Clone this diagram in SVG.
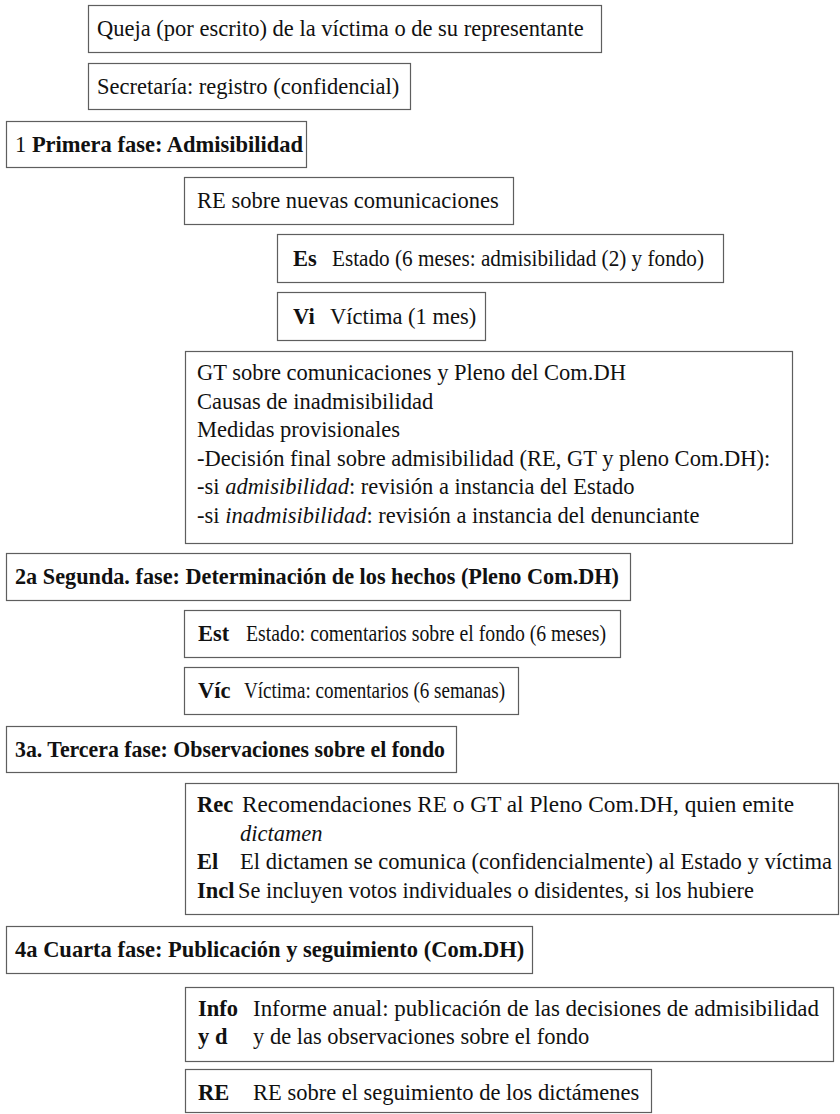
<svg xmlns="http://www.w3.org/2000/svg" width="840" height="1114" viewBox="0 0 840 1114">
<style>
.bx{fill:#ffffff;stroke:#5e5e5e;stroke-width:1.2}
.t{font-family:"Liberation Serif","Times New Roman",serif;font-size:22.5px;fill:#111111}
.b{font-weight:bold}
.i{font-style:italic}
</style>
<rect width="840" height="1114" fill="#ffffff"/>
<g id="queja"><rect class="bx" x="88.5" y="5.5" width="513" height="47"/><text class="t" x="97" y="36">Queja (por escrito) de la víctima o de su representante</text></g>
<g id="secretaria"><rect class="bx" x="88.5" y="63.5" width="322" height="46"/><text class="t" x="97" y="94">Secretaría: registro (confidencial)</text></g>
<g id="fase1"><rect class="bx" x="6.5" y="121.5" width="300" height="46"/><text class="t" x="15" y="152">1 <tspan class="b">Primera fase: Admisibilidad</tspan></text></g>
<g id="re-nuevas"><rect class="bx" x="184.5" y="177.5" width="329" height="47"/><text class="t" x="197" y="208">RE sobre nuevas comunicaciones</text></g>
<g id="es"><rect class="bx" x="277.5" y="234.5" width="446" height="48"/><text class="t b" x="293" y="266">Es</text><text class="t" x="332" y="266" textLength="372" lengthAdjust="spacingAndGlyphs">Estado (6 meses: admisibilidad (2) y fondo)</text></g>
<g id="vi"><rect class="bx" x="277.5" y="292.5" width="208" height="48"/><text class="t b" x="293" y="324">Vi</text><text class="t" x="330" y="324">Víctima (1 mes)</text></g>
<g id="gt"><rect class="bx" x="185.5" y="351.5" width="607" height="192"/>
<text class="t" x="197" y="380">GT sobre comunicaciones y Pleno del Com.DH</text>
<text class="t" x="197" y="408.6">Causas de inadmisibilidad</text>
<text class="t" x="197" y="437.2">Medidas provisionales</text>
<text class="t" x="197" y="465.8">-Decisión final sobre admisibilidad (RE, GT y pleno Com.DH):</text>
<text class="t" x="197" y="494.4">-si <tspan class="i">admisibilidad</tspan>: revisión a instancia del Estado</text>
<text class="t" x="197" y="523">-si <tspan class="i">inadmisibilidad</tspan>: revisión a instancia del denunciante</text></g>
<g id="fase2"><rect class="bx" x="6.5" y="553.5" width="624" height="47"/><text class="t b" x="15" y="584" textLength="604" lengthAdjust="spacingAndGlyphs">2a Segunda. fase: Determinación de los hechos (Pleno Com.DH)</text></g>
<g id="est"><rect class="bx" x="184.5" y="610.5" width="436" height="47"/><text class="t b" x="198" y="641">Est</text><text class="t" x="246" y="641" textLength="360" lengthAdjust="spacingAndGlyphs">Estado: comentarios sobre el fondo (6 meses)</text></g>
<g id="vic"><rect class="bx" x="184.5" y="667.5" width="334" height="47"/><text class="t b" x="198" y="698">Víc</text><text class="t" x="244" y="698" textLength="261" lengthAdjust="spacingAndGlyphs">Víctima: comentarios (6 semanas)</text></g>
<g id="fase3"><rect class="bx" x="6.5" y="726.5" width="450" height="46"/><text class="t b" x="15" y="757" textLength="430" lengthAdjust="spacingAndGlyphs">3a. Tercera fase: Observaciones sobre el fondo</text></g>
<g id="rec"><rect class="bx" x="185.5" y="783.5" width="653" height="131"/>
<text class="t b" x="197" y="812">Rec</text><text class="t" x="242" y="812" textLength="552" lengthAdjust="spacingAndGlyphs">Recomendaciones RE o GT al Pleno Com.DH, quien emite</text>
<text class="t i" x="240" y="840.5">dictamen</text>
<text class="t b" x="197" y="869">El</text><text class="t" x="240" y="869" textLength="592" lengthAdjust="spacingAndGlyphs">El dictamen se comunica (confidencialmente) al Estado y víctima</text>
<text class="t b" x="197" y="897.5">Incl</text><text class="t" x="238" y="897.5" textLength="516" lengthAdjust="spacingAndGlyphs">Se incluyen votos individuales o disidentes, si los hubiere</text></g>
<g id="fase4"><rect class="bx" x="6.5" y="926.5" width="526" height="47"/><text class="t b" x="15" y="957">4a Cuarta fase: Publicación y seguimiento (Com.DH)</text></g>
<g id="info"><rect class="bx" x="185.5" y="987.5" width="648" height="74"/>
<text class="t b" x="198" y="1016">Info</text><text class="t" x="253" y="1016" textLength="566" lengthAdjust="spacingAndGlyphs">Informe anual: publicación de las decisiones de admisibilidad</text>
<text class="t b" x="198" y="1044">y d</text><text class="t" x="253" y="1044">y de las observaciones sobre el fondo</text></g>
<g id="re-seguimiento"><rect class="bx" x="185.5" y="1069.5" width="466" height="43"/><text class="t b" x="198" y="1100">RE</text><text class="t" x="253" y="1100">RE sobre el seguimiento de los dictámenes</text></g>
</svg>
